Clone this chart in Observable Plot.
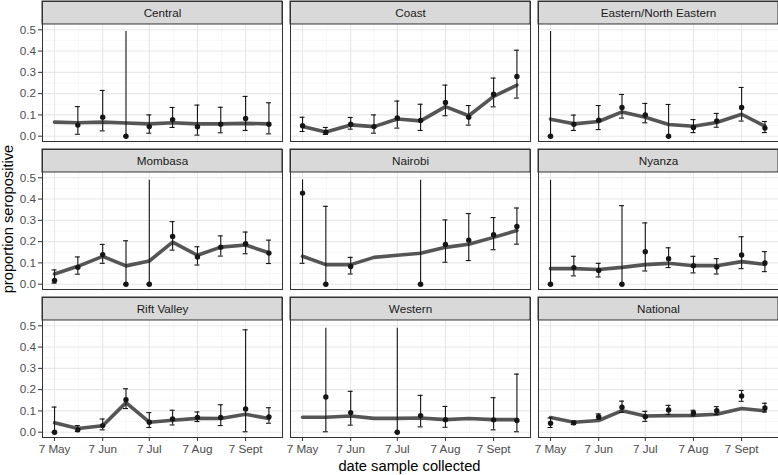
<!DOCTYPE html>
<html>
<head>
<meta charset="utf-8">
<script src="https://cdn.jsdelivr.net/npm/d3@7"></script>
<script src="https://cdn.jsdelivr.net/npm/@observablehq/plot@0.6"></script>
<style>
  body { margin: 0; background: #fff; }
  #chart { width: 778px; height: 475px; }
</style>
</head>
<body>
<div id="chart"></div>
<script>
// ---- data ----
const regions = ["Central", "Coast", "Eastern/North Eastern", "Mombasa", "Nairobi", "Nyanza", "Rift Valley", "Western", "National"];
const sampleDates = ["2020-05-07", "2020-05-22", "2020-06-07", "2020-06-22", "2020-07-07", "2020-07-22", "2020-08-07", "2020-08-22", "2020-09-07", "2020-09-22"];
const tickDates = ["2020-05-07", "2020-06-07", "2020-07-07", "2020-08-07", "2020-09-07"];
const tickLabels = ["7 May", "7 Jun", "7 Jul", "7 Aug", "7 Sept"];
const yTicks = [0, 0.1, 0.2, 0.3, 0.4, 0.5];
const yMinorTicks = [0.05, 0.15, 0.25, 0.35, 0.45];

// observed proportion seropositive (null = no sample)
const estimate = [
  [null, 0.052, 0.089, 0, 0.045, 0.078, 0.044, 0.056, 0.083, 0.056],
  [0.049, 0.019, 0.056, 0.045, 0.086, 0.074, 0.158, 0.089, 0.197, 0.281],
  [0, 0.056, 0.075, 0.135, 0.100, 0, 0.041, 0.071, 0.135, 0.038],
  [0.017, 0.079, 0.139, 0, 0, 0.224, 0.128, 0.174, 0.190, 0.146],
  [0.428, 0, 0.083, null, null, 0, 0.187, 0.207, 0.232, 0.271],
  [0, 0.078, 0.064, 0, 0.153, 0.120, 0.087, 0.081, 0.137, 0.100],
  [0, 0.011, 0.031, 0.153, 0.047, 0.062, 0.069, 0.069, 0.109, 0.072],
  [null, 0.165, 0.092, null, 0, 0.078, 0.059, null, 0.058, 0.055],
  [0.042, 0.044, 0.073, 0.117, 0.073, 0.104, 0.090, 0.101, 0.170, 0.114]
];
const lower = [
  [null, 0.009, 0.025, 0, 0.014, 0.041, 0.005, 0.016, 0.027, 0.011],
  [0.022, 0.008, 0.033, 0.014, 0.038, 0.027, 0.096, 0.052, 0.138, 0.179],
  [0, 0.027, 0.031, 0.085, 0.063, 0, 0.017, 0.042, 0.071, 0.017],
  [0.005, 0.047, 0.098, 0, 0, 0.160, 0.090, 0.132, 0.143, 0.097],
  [0.098, 0, 0.048, null, null, 0, 0.103, 0.111, 0.162, 0.188],
  [0, 0.039, 0.034, 0, 0.062, 0.078, 0.053, 0.048, 0.073, 0.059],
  [0, 0.003, 0.011, 0.111, 0.022, 0.034, 0.050, 0.031, 0.002, 0.042],
  [null, 0.002, 0.033, null, 0, 0.025, 0.023, null, 0.011, 0.002],
  [0.022, 0.036, 0.061, 0.093, 0.051, 0.084, 0.076, 0.083, 0.145, 0.095]
];
const upper = [
  [null, 0.139, 0.215, 0.492, 0.100, 0.135, 0.146, 0.136, 0.187, 0.157],
  [0.089, 0.041, 0.088, 0.100, 0.165, 0.150, 0.240, 0.144, 0.273, 0.404],
  [0.492, 0.099, 0.144, 0.196, 0.154, 0.149, 0.078, 0.107, 0.229, 0.069],
  [0.067, 0.128, 0.187, 0.204, 0.488, 0.294, 0.176, 0.227, 0.245, 0.207],
  [0.490, 0.366, 0.126, null, null, 0.488, 0.302, 0.332, 0.313, 0.358],
  [0.488, 0.131, 0.098, 0.369, 0.288, 0.171, 0.131, 0.120, 0.223, 0.153],
  [0.118, 0.031, 0.062, 0.204, 0.092, 0.103, 0.095, 0.129, 0.481, 0.115],
  [null, 0.488, 0.192, null, 0.488, 0.173, 0.121, null, 0.162, 0.273],
  [0.067, 0.051, 0.086, 0.146, 0.098, 0.126, 0.103, 0.120, 0.196, 0.136]
];
// model-fitted trend
const fitted = [
  [0.066, 0.063, 0.066, 0.062, 0.058, 0.063, 0.058, 0.058, 0.060, 0.058],
  [0.045, 0.020, 0.053, 0.045, 0.081, 0.072, 0.139, 0.096, 0.187, 0.240],
  [0.080, 0.058, 0.069, 0.114, 0.089, 0.055, 0.047, 0.064, 0.103, 0.047],
  [0.048, 0.084, 0.131, 0.086, 0.109, 0.198, 0.136, 0.174, 0.184, 0.148],
  [0.131, 0.092, 0.092, 0.126, 0.136, 0.145, 0.173, 0.188, 0.220, 0.252],
  [0.073, 0.073, 0.069, 0.079, 0.092, 0.098, 0.087, 0.087, 0.106, 0.093],
  [0.044, 0.017, 0.030, 0.139, 0.047, 0.056, 0.065, 0.064, 0.084, 0.064],
  [0.070, 0.070, 0.076, 0.065, 0.065, 0.067, 0.059, 0.064, 0.059, 0.059],
  [0.069, 0.047, 0.055, 0.101, 0.076, 0.078, 0.079, 0.084, 0.111, 0.100]
];

// ---- build table ----
const parse = d3.utcParse("%Y-%m-%d");
const rows = [];
regions.forEach((r, i) => sampleDates.forEach((d, j) => rows.push({
  region: r, col: i % 3, row: Math.floor(i / 3), date: parse(d),
  est: estimate[i][j], lo: lower[i][j], hi: upper[i][j], fit: fitted[i][j]
})));
const points = rows.filter(d => d.est != null);
const topCaps = points.filter(d => d.hi < 0.485);
const panels = regions.map((r, i) => ({region: r, col: i % 3, row: Math.floor(i / 3)}));

const majorX = tickDates.map(parse);
const minorX = majorX.map((d, i) => {
  const next = majorX[i + 1] || new Date(+d + (d - majorX[i - 1]));
  return new Date((+d + +next) / 2);
});

const xDomain = [new Date(Date.UTC(2020, 3, 29, 6)), new Date(Date.UTC(2020, 8, 30, 18))];
const yBottom = -0.025, yPanelTop = 0.525, yCellTop = 0.633;

const fxy = {fx: "col", fy: "row"};

const chart = Plot.plot({
  width: 778,
  height: 475,
  marginLeft: 42,
  marginRight: 0,
  marginTop: 1,
  marginBottom: 38,
  style: {fontFamily: "'Liberation Sans', Arial, Helvetica, sans-serif", fontSize: "11.7px", color: "#4d4d4d", background: "#fff", overflow: "visible"},
  fx: {domain: [0, 1, 2], axis: null, paddingInner: 8 / 248, paddingOuter: 0, round: false},
  fy: {domain: [0, 1, 2], axis: null, paddingInner: 8 / 148, paddingOuter: 0, round: false},
  x: {type: "utc", domain: xDomain},
  y: {domain: [yBottom, yCellTop]},
  marks: [
    Plot.ruleY(yMinorTicks, {stroke: "#f2f2f2", strokeWidth: 0.6}),
    Plot.ruleX(minorX, {y1: yBottom, y2: yPanelTop, stroke: "#f2f2f2", strokeWidth: 0.6}),
    Plot.ruleY(yTicks, {stroke: "#e8e8e8", strokeWidth: 1.1}),
    Plot.ruleX(majorX, {y1: yBottom, y2: yPanelTop, stroke: "#e8e8e8", strokeWidth: 1.1}),
    Plot.line(rows, {...fxy, x: "date", y: "fit", stroke: "#555555", strokeWidth: 3.6, strokeLinejoin: "round"}),
    Plot.ruleX(points, {...fxy, x: "date", y1: "lo", y2: "hi", stroke: "#151515", strokeWidth: 1.1}),
    Plot.ruleY(topCaps, {...fxy, x1: "date", x2: "date", y: "hi", insetLeft: -2.5, insetRight: -2.5, stroke: "#151515", strokeWidth: 1.1}),
    Plot.ruleY(points, {...fxy, x1: "date", x2: "date", y: "lo", insetLeft: -2.5, insetRight: -2.5, stroke: "#151515", strokeWidth: 1.1}),
    Plot.dot(points, {...fxy, x: "date", y: "est", r: 2.7, fill: "#151515"}),
    Plot.rect(panels, {...fxy, x1: xDomain[0], x2: xDomain[1], y1: yPanelTop, y2: yCellTop, fill: "#d9d9d9", stroke: "#333333", strokeWidth: 1}),
    Plot.text(panels, {...fxy, text: "region", frameAnchor: "top", lineAnchor: "middle", dy: 12, fill: "#1a1a1a", fontSize: 11.7}),
    Plot.frame({stroke: "#333333", strokeWidth: 1}),
    Plot.axisY({ticks: yTicks, tickFormat: d3.format(".1f"), tickSize: 4, tickPadding: 2.5, label: null, stroke: "#333333", fill: "#4d4d4d"}),
    Plot.axisX({ticks: majorX, tickFormat: (d, i) => tickLabels[i], tickSize: 4, tickPadding: 3, label: null, stroke: "#333333", fill: "#4d4d4d"})
  ]
});

const svg = d3.select(chart);
svg.append("text")
  .attr("x", 409.5).attr("y", 470.5)
  .attr("text-anchor", "middle")
  .attr("font-size", "14.7px")
  .attr("fill", "#000")
  .text("date sample collected");
svg.append("text")
  .attr("transform", "translate(12.5,219) rotate(-90)")
  .attr("text-anchor", "middle")
  .attr("font-size", "14.7px")
  .attr("fill", "#000")
  .text("proportion seropositive");

document.getElementById("chart").appendChild(chart);
</script>
</body>
</html>
